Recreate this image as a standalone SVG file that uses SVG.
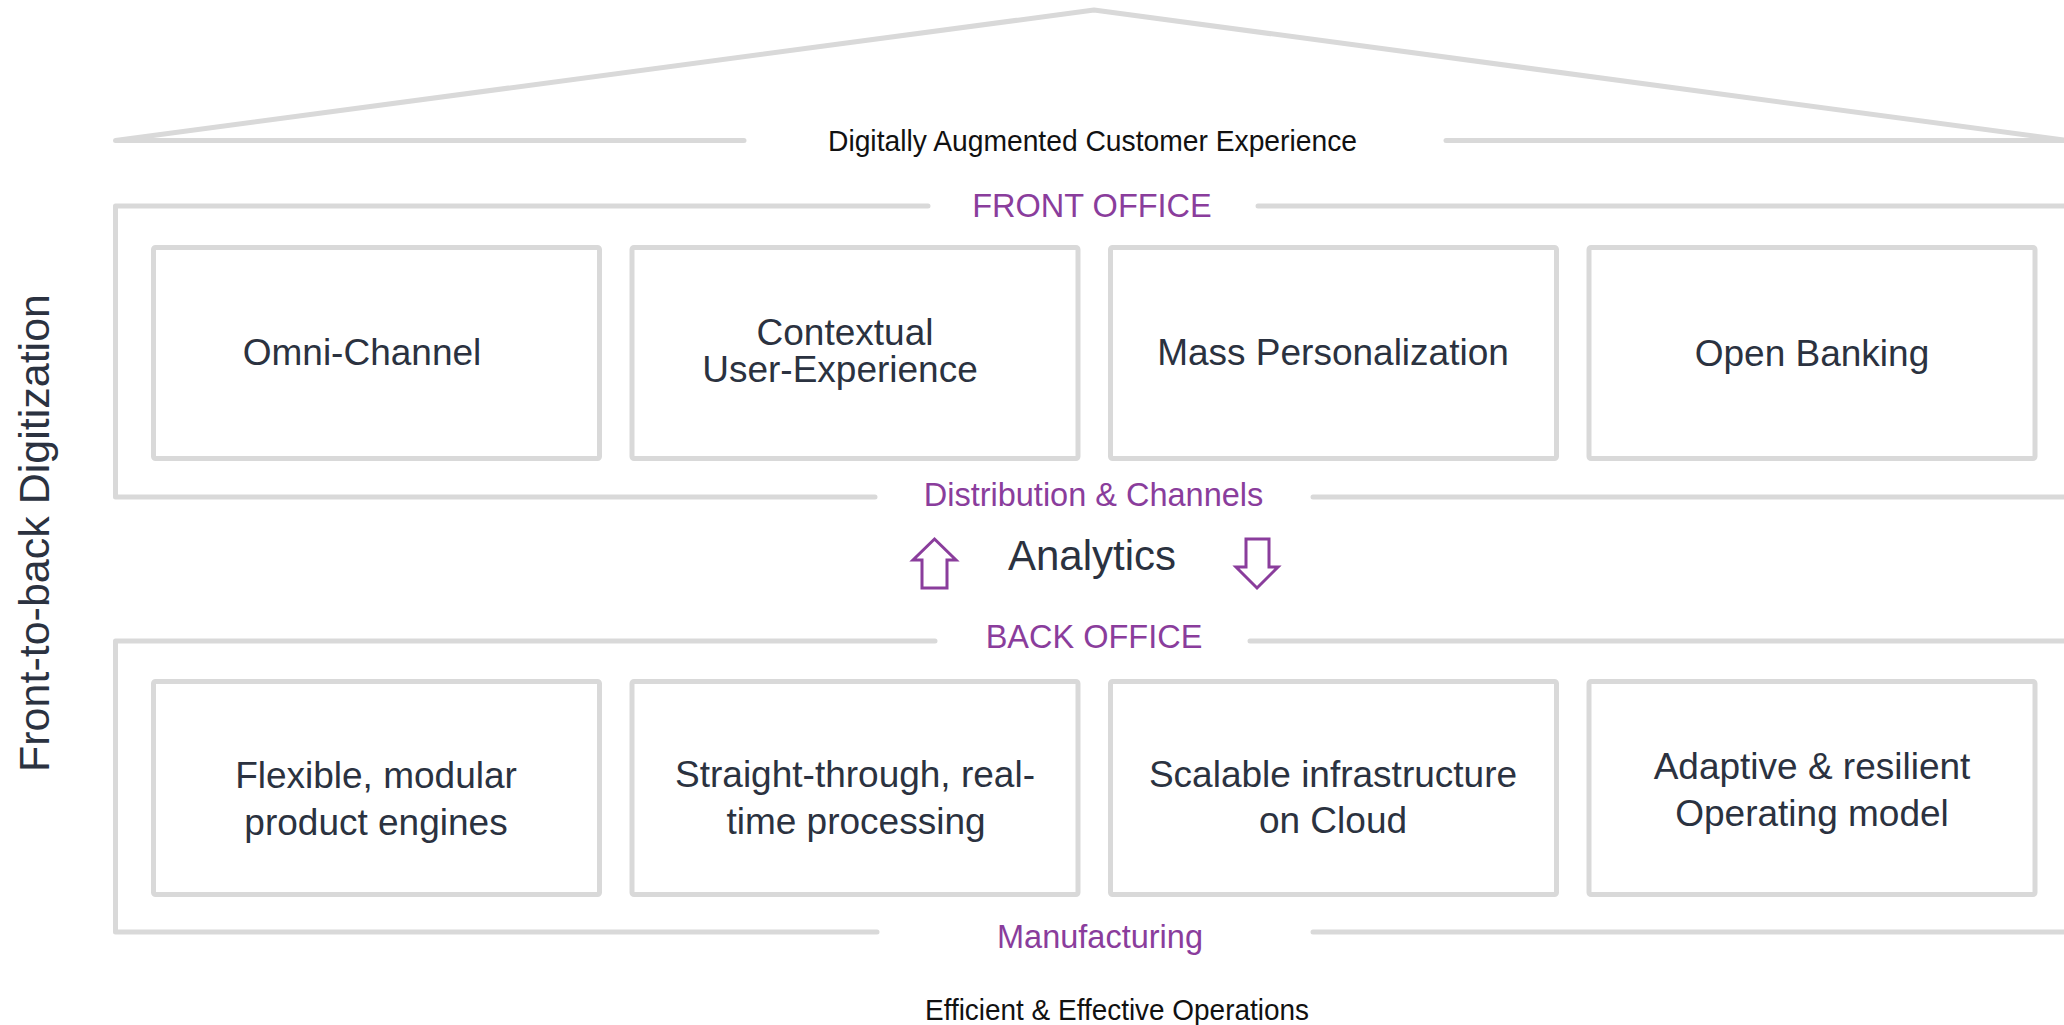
<svg xmlns="http://www.w3.org/2000/svg" width="2064" height="1025" viewBox="0 0 2064 1025">
<style>
  .ln{fill:none;stroke:#d9d9d9;stroke-width:5;stroke-linecap:round;stroke-linejoin:round}
  .box{fill:#ffffff;stroke:#d9d9d9;stroke-width:5}
  .bt{font-family:"Liberation Sans",Arial,sans-serif;font-size:37px;fill:#2b3240;text-anchor:middle}
  .pl{font-family:"Liberation Sans",Arial,sans-serif;font-size:32.5px;fill:#8a3d9c;text-anchor:middle}
  .bk{font-family:"Liberation Sans",Arial,sans-serif;font-size:30px;fill:#111111;text-anchor:middle}
  .arr{fill:#ffffff;stroke:#8a3d9c;stroke-width:3;stroke-linejoin:miter}
</style>
<rect width="2064" height="1025" fill="#ffffff"/>

<g id="roof">
  <path class="ln" d="M744 140.5 H115.5 L1094 10 L2064 140"/>
  <path class="ln" d="M1446 140.5 H2064"/>
  <text class="bk" x="1092.5" y="151" textLength="529" lengthAdjust="spacingAndGlyphs">Digitally Augmented Customer Experience</text>
</g>

<g id="front-office">
  <path class="ln" d="M928 206 H115.5 V497 H875"/>
  <path class="ln" d="M1258 206 H2064"/>
  <path class="ln" d="M1313 497 H2064"/>
  <text class="pl" x="1092" y="217">FRONT OFFICE</text>
  <text class="pl" x="1093.5" y="506">Distribution &amp; Channels</text>
</g>

<g id="omni-channel">
  <rect class="box" x="153.5" y="247.5" width="446" height="211" rx="2"/>
  <text class="bt" x="362" y="365">Omni-Channel</text>
</g>
<g id="contextual-ux">
  <rect class="box" x="632" y="247.5" width="446" height="211" rx="2"/>
  <text class="bt" x="845" y="345">Contextual</text>
  <text class="bt" x="840" y="382">User-Experience</text>
</g>
<g id="mass-personalization">
  <rect class="box" x="1110.5" y="247.5" width="446" height="211" rx="2"/>
  <text class="bt" x="1333" y="365">Mass Personalization</text>
</g>
<g id="open-banking">
  <rect class="box" x="1589" y="247.5" width="446" height="211" rx="2"/>
  <text class="bt" x="1812" y="366">Open Banking</text>
</g>

<g id="analytics">
  <polygon class="arr" points="934.5,539 956,560 947,560 947,588 922,588 922,560 913,560"/>
  <polygon class="arr" points="1246,539 1269,539 1269,567 1278,567 1257,588 1236,567 1246,567"/>
  <text x="1092" y="570" font-family="Liberation Sans, Arial, sans-serif" font-size="42" fill="#2b3240" text-anchor="middle">Analytics</text>
</g>

<g id="back-office">
  <path class="ln" d="M935 641 H115.5 V932 H877"/>
  <path class="ln" d="M1250 641 H2064"/>
  <path class="ln" d="M1313 932 H2064"/>
  <text class="pl" x="1094" y="648">BACK OFFICE</text>
  <text class="pl" x="1100" y="948">Manufacturing</text>
</g>

<g id="product-engines">
  <rect class="box" x="153.5" y="681.5" width="446" height="213" rx="2"/>
  <text class="bt" x="376" y="788">Flexible, modular</text>
  <text class="bt" x="376" y="835">product engines</text>
</g>
<g id="stp">
  <rect class="box" x="632" y="681.5" width="446" height="213" rx="2"/>
  <text class="bt" x="855" y="787">Straight-through, real-</text>
  <text class="bt" x="856" y="834">time processing</text>
</g>
<g id="cloud">
  <rect class="box" x="1110.5" y="681.5" width="446" height="213" rx="2"/>
  <text class="bt" x="1333" y="787">Scalable infrastructure</text>
  <text class="bt" x="1333" y="833">on Cloud</text>
</g>
<g id="operating-model">
  <rect class="box" x="1589" y="681.5" width="446" height="213" rx="2"/>
  <text class="bt" x="1812" y="779">Adaptive &amp; resilient</text>
  <text class="bt" x="1812" y="826">Operating model</text>
</g>

<g id="foundation">
  <text class="bk" x="1117" y="1020" textLength="384" lengthAdjust="spacingAndGlyphs">Efficient &amp; Effective Operations</text>
</g>

<g id="side-label">
  <text transform="translate(49,533) rotate(-90)" font-family="Liberation Sans, Arial, sans-serif" font-size="43" fill="#2b3240" text-anchor="middle">Front-to-back Digitization</text>
</g>

<g id="connectors"></g>
</svg>
